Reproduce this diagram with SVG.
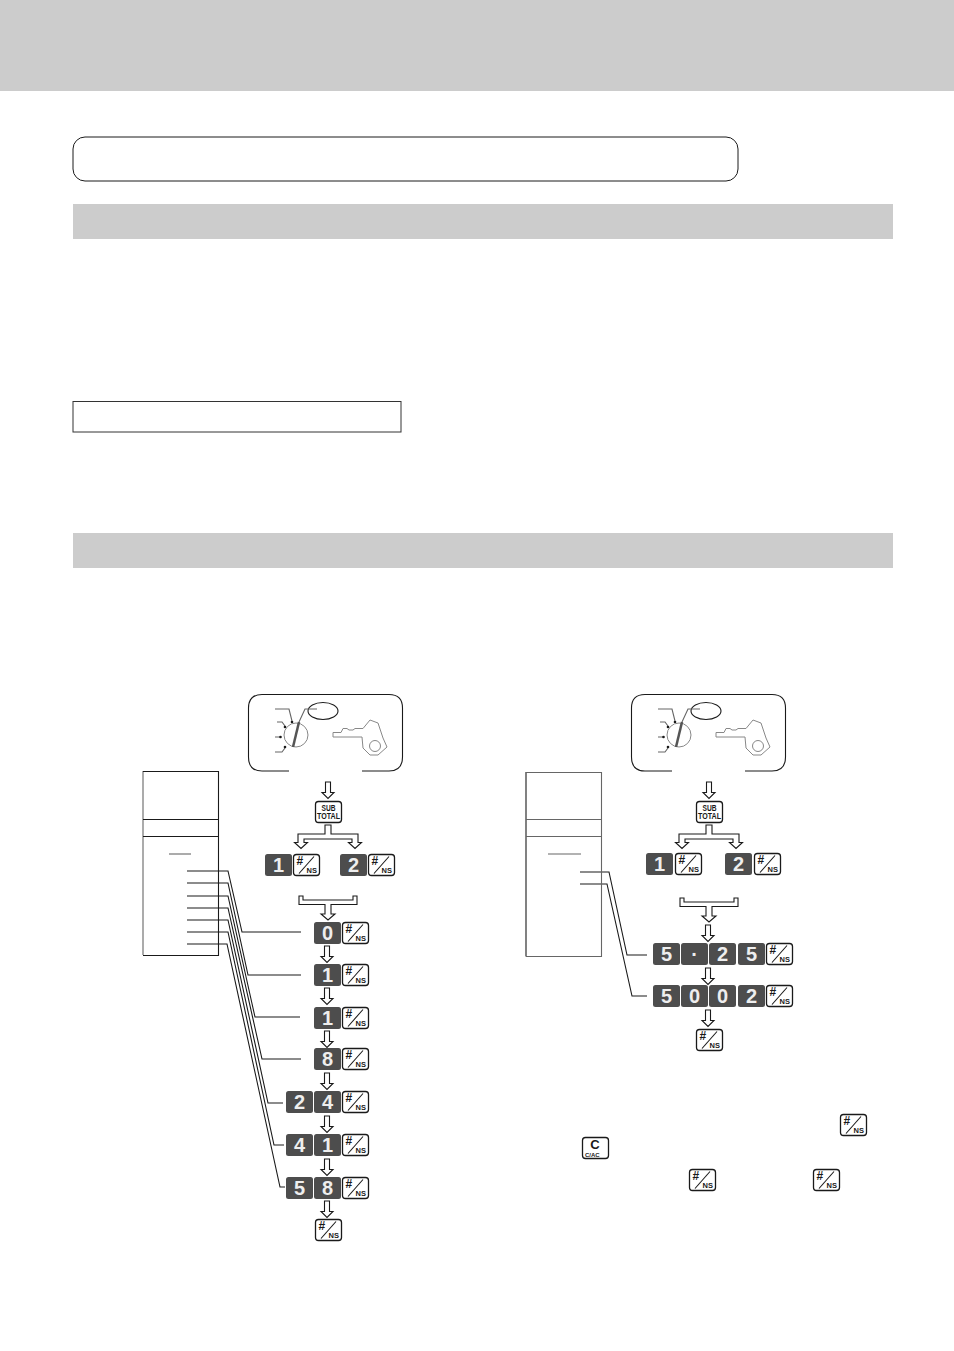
<svg xmlns="http://www.w3.org/2000/svg" xmlns:xlink="http://www.w3.org/1999/xlink" width="954" height="1351" viewBox="0 0 954 1351">
<style>
.k{fill:#4d4d4d}
.d{font:bold 20px "Liberation Sans",Arial,sans-serif;fill:#eeeeee;text-anchor:middle}
.l{fill:none;stroke:#1a1a1a;stroke-width:1.1}
.g{fill:none;stroke:#666666;stroke-width:1.1}
.key{fill:#fff;stroke:#1a1a1a;stroke-width:1.3}
.a{fill:#fff;stroke:#1a1a1a;stroke-width:1.1}
.bar{fill:#cccccc}
.ns1{font:bold 12px "Liberation Sans",Arial,sans-serif;fill:#1a1a1a}
.ns2{font:bold 7.5px "Liberation Sans",Arial,sans-serif;fill:#1a1a1a}
.st{font:bold 8.5px "Liberation Sans",Arial,sans-serif;fill:#1a1a1a;text-anchor:middle}
</style>
<defs>
<g id="ns"><rect class="key" x="0.5" y="0.5" width="26" height="21" rx="3"/><path class="l" d="M6 19.500 21 2.500"/><text class="ns1" x="3.500" y="11">#</text><text class="ns2" x="13.500" y="19">NS</text></g>
<path id="ar" class="a" d="M-2.500 0H2.500V10.500H6L0 16.500-6 10.500H-2.500Z"/>
<rect id="dk" class="k" x="0" y="0" width="27" height="22" rx="2.500"/>
<g id="sub"><rect class="key" x="0.5" y="0.5" width="26" height="21" rx="3"/><text class="st" x="13.500" y="10" textLength="14" lengthAdjust="spacingAndGlyphs">SUB</text><text class="st" x="13.500" y="18" textLength="23" lengthAdjust="spacingAndGlyphs">TOTAL</text></g>
<g id="mode">
<path class="l" d="M41 77H14Q0.500 77 0.500 63V14Q0.500 0.500 14 0.500H141Q154.500 0.500 154.500 14V63Q154.500 77 141 77H114"/>
<ellipse class="l" cx="75" cy="17" rx="15" ry="8.500" fill="#fff"/>
<path class="g" d="M69 15H57L51 28M27 15H41L44 27M29 28H34L37 32M27 43H32M27 58H34L37 54"/>
<circle cx="44" cy="28" r="1.300" fill="#1a1a1a"/><circle cx="37" cy="33" r="1.300" fill="#1a1a1a"/><circle cx="32.500" cy="43" r="1.300" fill="#1a1a1a"/><circle cx="37" cy="53" r="1.300" fill="#1a1a1a"/>
<circle cx="48" cy="41" r="12" fill="none" stroke="#888888"/>
<path d="M45 53 51 28" stroke="#555555" stroke-width="2.500" fill="none"/>
<path d="M85 43V38.500H93L95 34.500H99L101 36H105L107 34.500H115L122 26 130 29 135 44 139 53 130 61H122L115 54 114 43Z" fill="none" stroke="#888888" stroke-width="1"/>
<circle cx="127" cy="52" r="5.500" fill="none" stroke="#888888"/>
</g>
<path id="split" class="a" d="M-3 0H3V9H30V17.500H33.500L27 23.500 20.500 17.500H24V14H-24V17.500H-20.500L-27 23.500-33.500 17.500H-30V9H-3Z"/>
<path id="merge" class="a" d="M-29 0H-25V4H25V0H29V8.500H3V18H7L0 24-7 18H-3V8.500H-29Z"/>
</defs>
<rect id="top-band" class="bar" x="0" y="0" width="954" height="91"/>
<g id="title-box"><rect x="73" y="137" width="665" height="44" rx="12" fill="#fff" stroke="#1a1a1a" stroke-width="1"/></g>
<rect id="section-bar-1" class="bar" x="73" y="204" width="820" height="35"/>
<g id="note-box"><rect x="73" y="401.500" width="328" height="30.500" fill="#fff" stroke="#333333" stroke-width="1"/></g>
<rect id="section-bar-2" class="bar" x="73" y="533" width="820" height="35"/>

<g id="connectors">
<path class="l" d="M187 871H228L242 932H301"/>
<path class="l" d="M187 883H228L248 975H301"/>
<path class="l" d="M187 896H228L255 1017H300"/>
<path class="l" d="M187 908H228L262 1059H301"/>
<path class="l" d="M187 920H228L268 1103H283"/>
<path class="l" d="M187 932H228L274 1145H284"/>
<path class="l" d="M187 944H227L280 1187H285"/>
<path class="l" d="M580 872H609L627 955H647"/>
<path class="l" d="M580 884H607L632 996H647"/>
<g id="arrows-left">
<use href="#ar" x="328" y="782"/><use href="#split" x="328" y="825"/><use href="#merge" x="328" y="896"/>
<use href="#ar" x="327" y="946"/><use href="#ar" x="327" y="988"/><use href="#ar" x="327" y="1031"/><use href="#ar" x="327" y="1073"/><use href="#ar" x="327" y="1116"/><use href="#ar" x="327" y="1159"/><use href="#ar" x="327" y="1201"/>
</g>
<g id="arrows-right">
<use href="#ar" x="709" y="782"/><use href="#split" x="709" y="825"/><use href="#merge" x="709" y="898"/>
<use href="#ar" x="708" y="925"/><use href="#ar" x="708" y="968"/><use href="#ar" x="708" y="1010"/>
</g>
</g>

<g id="mode-left"><use href="#mode" x="248" y="694"/></g>
<g id="mode-right"><use href="#mode" x="631" y="694"/></g>

<g id="receipt-left"><path class="g" d="M143 771V955"/><path class="l" d="M143 771.500H218.500V955.500H143M143 819.500H218M143 836.500H218"/><path class="g" d="M169 854H191"/></g>
<g id="receipt-right"><path class="l" d="M526 772V956.500"/><path class="g" d="M526 772.500H601.500V956.500H526M526 819.500H601M526 836.500H601M548 854H581"/></g>

<g id="key-subtotal-left"><use href="#sub" x="315" y="801"/></g>
<g id="key-subtotal-right"><use href="#sub" x="696" y="801"/></g>

<g id="left-1"><use href="#dk" x="265" y="854"/><text class="d" x="278.500" y="872">1</text><use href="#ns" x="293" y="854"/></g>
<g id="left-2"><use href="#dk" x="340" y="854"/><text class="d" x="353.500" y="872">2</text><use href="#ns" x="368" y="854"/></g>
<g id="left-0"><use href="#dk" x="314" y="922"/><text class="d" x="327.500" y="940">0</text><use href="#ns" x="342" y="922"/></g>
<g id="left-1b"><use href="#dk" x="314" y="964"/><text class="d" x="327.500" y="982">1</text><use href="#ns" x="342" y="964"/></g>
<g id="left-1c"><use href="#dk" x="314" y="1007"/><text class="d" x="327.500" y="1025">1</text><use href="#ns" x="342" y="1007"/></g>
<g id="left-8"><use href="#dk" x="314" y="1048"/><text class="d" x="327.500" y="1066">8</text><use href="#ns" x="342" y="1048"/></g>
<g id="left-24"><use href="#dk" x="286" y="1091"/><text class="d" x="299.500" y="1109">2</text><use href="#dk" x="314" y="1091"/><text class="d" x="327.500" y="1109">4</text><use href="#ns" x="342" y="1091"/></g>
<g id="left-41"><use href="#dk" x="286" y="1134"/><text class="d" x="299.500" y="1152">4</text><use href="#dk" x="314" y="1134"/><text class="d" x="327.500" y="1152">1</text><use href="#ns" x="342" y="1134"/></g>
<g id="left-58"><use href="#dk" x="286" y="1177"/><text class="d" x="299.500" y="1195">5</text><use href="#dk" x="314" y="1177"/><text class="d" x="327.500" y="1195">8</text><use href="#ns" x="342" y="1177"/></g>
<g id="left-end"><use href="#ns" x="315" y="1219"/></g>

<g id="right-1"><use href="#dk" x="646" y="853"/><text class="d" x="659.500" y="871">1</text><use href="#ns" x="675" y="853"/></g>
<g id="right-2"><use href="#dk" x="725" y="853"/><text class="d" x="738.500" y="871">2</text><use href="#ns" x="754" y="853"/></g>
<g id="right-525"><use href="#dk" x="653" y="943"/><text class="d" x="666.500" y="961">5</text><use href="#dk" x="681" y="943"/><text class="d" x="694.500" y="961">·</text><use href="#dk" x="709" y="943"/><text class="d" x="722.500" y="961">2</text><use href="#dk" x="738" y="943"/><text class="d" x="751.500" y="961">5</text><use href="#ns" x="766" y="943"/></g>
<g id="right-5002"><use href="#dk" x="653" y="985"/><text class="d" x="666.500" y="1003">5</text><use href="#dk" x="681" y="985"/><text class="d" x="694.500" y="1003">0</text><use href="#dk" x="709" y="985"/><text class="d" x="722.500" y="1003">0</text><use href="#dk" x="738" y="985"/><text class="d" x="751.500" y="1003">2</text><use href="#ns" x="766" y="985"/></g>
<g id="right-end"><use href="#ns" x="696" y="1029"/></g>

<g id="note-ns-1"><use href="#ns" x="840" y="1114"/></g>
<g id="note-cac"><rect class="key" x="582.500" y="1137.500" width="26" height="21" rx="3"/><text x="595" y="1149" style="font:bold 13px 'Liberation Sans',Arial,sans-serif;text-anchor:middle;fill:#1a1a1a">C</text><text x="585" y="1156.500" style="font:bold 6px 'Liberation Sans',Arial,sans-serif;fill:#1a1a1a">C/AC</text></g>
<g id="note-ns-2"><use href="#ns" x="689" y="1169"/></g>
<g id="note-ns-3"><use href="#ns" x="813" y="1169"/></g>
</svg>
